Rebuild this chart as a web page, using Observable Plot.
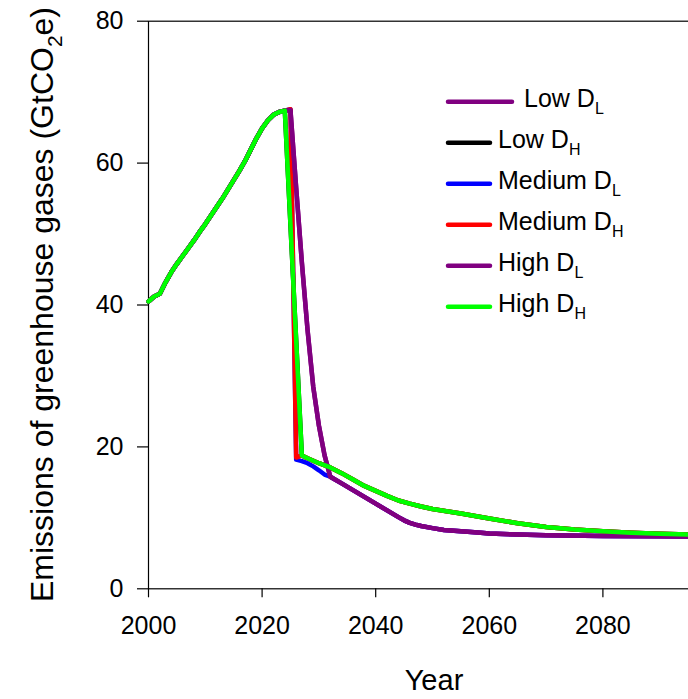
<!DOCTYPE html>
<html><head><meta charset="utf-8">
<script src="https://cdn.jsdelivr.net/npm/d3@7"></script>
<script src="https://cdn.jsdelivr.net/npm/@observablehq/plot@0.6"></script>
<style>html,body{margin:0;padding:0;overflow:hidden;background:#fff} svg{display:block;max-width:none !important;height:699px !important;width:760px !important}</style>
</head><body><div id="chart"></div>
<script>
// ---- data ----
const scenarios = ["Low DL", "Low DH", "Medium DL", "Medium DH", "High DL", "High DH"];
const scenarioLevels = ["Low", "Low", "Medium", "Medium", "High", "High"];
const scenarioSubs = ["L", "H", "L", "H", "L", "H"];
const scenarioColors = ["#800080", "#000000", "#0000ff", "#ff0000", "#800080", "#00ff00"];
const drawOrder = ["Low DH", "Medium DL", "Medium DH", "Low DL", "High DL", "High DH"];

const historyYears = [2000, 2001, 2002, 2003, 2004, 2005, 2006, 2007, 2008, 2009, 2010, 2011, 2012,
  2013, 2014, 2015, 2016, 2017, 2018, 2019, 2020, 2021, 2022, 2023, 2024];
const historyEmissions = [40.5, 41.2, 41.6, 43.2, 44.6, 45.8, 46.9, 48.0, 49.1, 50.3, 51.4, 52.6, 53.8,
  55.0, 56.3, 57.6, 58.9, 60.3, 61.9, 63.5, 64.9, 66.0, 66.8, 67.2, 67.4];

// slow drop (D_L with low / high)
const slowDropYears = [2025, 2026, 2027, 2028, 2029, 2030, 2031];
const slowDropEmissions = [67.4, 56.5, 46.0, 36.5, 28.5, 23.0, 18.8];

// medium D_L drop
const mediumDLYears = [2025, 2026, 2027, 2028, 2029, 2030, 2031];
const mediumDLEmissions = [67.6, 18.2, 18.0, 17.7, 17.25, 16.7, 16.1];

// medium D_H drop
const mediumDHYears = [2025, 2026];
const mediumDHEmissions = [67.6, 18.5];

// lower tail (D_L scenarios)
const lowTailYears = [2032, 2034, 2036, 2038, 2040, 2042, 2044, 2045, 2046, 2047, 2048, 2050, 2052,
  2055, 2058, 2060, 2065, 2070, 2080, 2090, 2100];
const lowTailEmissions = [15.8, 14.85, 13.9, 12.95, 12.0, 11.05, 10.1, 9.65, 9.3, 9.05, 8.85, 8.55, 8.3,
  8.1, 7.95, 7.8, 7.65, 7.55, 7.45, 7.4, 7.35];

// upper tail (D_H scenarios)
const highTailYears = [2027, 2028, 2030, 2032, 2034, 2036, 2038, 2040, 2042, 2044, 2046, 2048, 2050,
  2055, 2060, 2065, 2070, 2075, 2080, 2085, 2090, 2095, 2100];
const highTailEmissions = [18.8, 18.4, 17.7, 17.1, 16.3, 15.4, 14.5, 13.8, 13.1, 12.45, 12.0, 11.6, 11.25,
  10.6, 9.9, 9.25, 8.7, 8.35, 8.1, 7.9, 7.75, 7.65, 7.55];

const xTicks = [2000, 2020, 2040, 2060, 2080, 2100];
const yTicks = [0, 20, 40, 60, 80];

// ---- table ----
function seg(years, vals) { return years.map((y, i) => ({year: y, value: vals[i]})); }
const hist = seg(historyYears, historyEmissions);
const lowTail = seg(lowTailYears, lowTailEmissions);
const highTail = seg(highTailYears, highTailEmissions);
const parts = {
  "Low DL": [hist, seg(slowDropYears, slowDropEmissions), lowTail],
  "Low DH": [hist, highTail],
  "Medium DL": [hist, seg(mediumDLYears, mediumDLEmissions), lowTail],
  "Medium DH": [hist, seg(mediumDHYears, mediumDHEmissions), highTail],
  "High DL": [hist, seg(slowDropYears, slowDropEmissions), lowTail],
  "High DH": [hist, highTail]
};
const rows = [];
for (const s of scenarios) for (const p of parts[s]) for (const d of p) rows.push({scenario: s, ...d});

// ---- plot ----
const font = "'Liberation Sans', Arial, Helvetica, sans-serif";
const W = 760, H = 699;
const chart = Plot.plot({
  width: W, height: H,
  marginLeft: 148, marginRight: 44, marginTop: 20.7, marginBottom: 110.7,
  style: {fontFamily: font, fontSize: "25px", color: "black", background: "white", overflow: "visible", maxWidth: "none"},
  x: {domain: [2000, 2100], label: null},
  y: {domain: [0, 80], label: null},
  color: {domain: scenarios, range: scenarioColors},
  marks: [
    Plot.frame({stroke: "black", strokeWidth: 1.2}),
    Plot.axisX({ticks: xTicks, tickFormat: d => String(d), tickSize: 9, tickPadding: 18, fontSize: 25, label: null, strokeWidth: 1.2}),
    Plot.axisY({ticks: yTicks, tickFormat: d => String(d), tickSize: 11, tickPadding: 14, fontSize: 25, label: null, strokeWidth: 1.2}),
    ...drawOrder.map(s => Plot.line(rows.filter(r => r.scenario === s),
      {x: "year", y: "value", stroke: "scenario", strokeWidth: 4.5}))
  ]
});
document.getElementById("chart").appendChild(chart);

// ---- axis titles ----
const svg = d3.select(chart);
const yl = svg.append("text")
  .attr("transform", "translate(53,304.5) rotate(-90)")
  .attr("text-anchor", "middle").attr("font-family", font).attr("font-size", 32).attr("fill", "black");
yl.append("tspan").text("Emissions of greenhouse gases (GtCO");
yl.append("tspan").attr("font-size", 21).attr("dy", 9).text("2");
yl.append("tspan").attr("dy", -9).text("e)");

svg.append("text").attr("x", 434).attr("y", 690).attr("text-anchor", "middle")
  .attr("font-family", font).attr("font-size", 29).attr("fill", "black").text("Year");

// ---- legend ----
const lg = svg.append("g").attr("font-family", font).attr("font-size", 25).attr("fill", "black")
  .attr("text-anchor", "start");
scenarios.forEach((s, i) => {
  const y = 101.7 + i * 41;
  const x2 = i === 0 ? 512 : 490;
  const tx = i === 0 ? 524 : 498;
  lg.append("line").attr("x1", 448).attr("x2", x2).attr("y1", y).attr("y2", y)
    .attr("stroke", scenarioColors[i]).attr("stroke-width", 4.5).attr("stroke-linecap", "round");
  const t = lg.append("text").attr("x", tx).attr("y", y + 5.5);
  t.append("tspan").text(scenarioLevels[i] + " D");
  t.append("tspan").attr("font-size", 16).attr("dy", 6.5).text(scenarioSubs[i]);
});
</script>
</body></html>
